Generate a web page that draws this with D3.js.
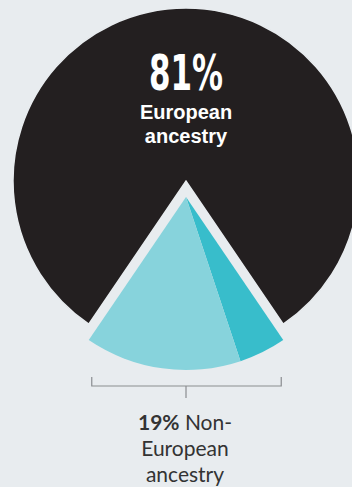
<!DOCTYPE html>
<html>
<head>
<meta charset="utf-8">
<script src="https://cdn.jsdelivr.net/npm/d3@7"></script>
<style>
  html, body { margin: 0; padding: 0; background: #e8ecef; }
  svg { display: block; }
</style>
</head>
<body>
<svg id="chart" width="352" height="487"></svg>
<script>
// Ancestry shares (%), drawn clockwise starting at the exploded wedge
const groups = ["Non-European (other)", "Non-European (Asian)", "European"];
const shares = [4.4, 14.6, 81];
const colors = ["#38bdcb", "#87d3dc", "#231f20"];

const bigLabel = "81%";
const bigCaption = ["European", "ancestry"];
const smallPct = "19%";
const smallCaption = ["Non-", "European", "ancestry"];

const W = 352, H = 487;
const cx = 186, cy = 181, R = 173;
const explode = 16;
const bg = "#e8ecef";

const svg = d3.select("#chart");

const nonEuro = d3.sum(shares.slice(0, 2)) / d3.sum(shares);
const start = Math.PI * (1 - nonEuro);

const pie = d3.pie().sort(null).value(d => d)
  .startAngle(start).endAngle(start + 2 * Math.PI);
const arcs = pie(shares);
const arc = d3.arc().innerRadius(0).outerRadius(R);

const g = svg.append("g").attr("transform", `translate(${cx},${cy})`);

g.selectAll("path.slice")
  .data(arcs)
  .join("path")
  .attr("class", "slice")
  .attr("d", arc)
  .attr("fill", (d, i) => colors[i])
  .attr("stroke", (d, i) => i < 2 ? "none" : bg)
  .attr("stroke-width", 1.5)
  .attr("transform", (d, i) => i < 2 ? `translate(0,${explode})` : null);

// Labels inside the large wedge
g.append("text")
  .attr("x", 0).attr("y", 89.5 - cy)
  .attr("text-anchor", "middle")
  .attr("fill", "#ffffff")
  .style("font-family", "'Liberation Sans Narrow', 'DejaVu Sans Condensed', sans-serif")
  .style("font-stretch", "condensed")
  .style("font-weight", "bold")
  .style("font-size", "50px")
  .attr("textLength", 74)
  .attr("lengthAdjust", "spacingAndGlyphs")
  .text(bigLabel);

g.selectAll("text.cap")
  .data(bigCaption)
  .join("text")
  .attr("class", "cap")
  .attr("x", 0)
  .attr("y", (d, i) => 118.5 - cy + i * 24)
  .attr("text-anchor", "middle")
  .attr("fill", "#ffffff")
  .style("font-family", "'Liberation Sans', Arial, sans-serif")
  .style("font-weight", "bold")
  .style("font-size", "20px")
  .text(d => d);

// Bracket under the exploded wedges
const a0 = arcs[0].startAngle, a1 = arcs[1].endAngle;
const xr = R * Math.sin(a0) - 2, xl = R * Math.sin(a1) + 3;
const by = 386 - cy, tickUp = 9, tickDown = 12;
const bracket = d3.path();
bracket.moveTo(xl, by - tickUp); bracket.lineTo(xl, by);
bracket.lineTo(xr, by); bracket.lineTo(xr, by - tickUp);
bracket.moveTo(0, by); bracket.lineTo(0, by + tickDown);
g.append("path")
  .attr("d", bracket.toString())
  .attr("fill", "none")
  .attr("stroke", "#8a8d90")
  .attr("stroke-width", 1.2);

const low = g.append("text")
  .attr("text-anchor", "middle")
  .attr("fill", "#333333")
  .style("font-family", "Lato, 'Open Sans', sans-serif")
  .style("font-size", "21px");

const line1 = low.append("tspan").attr("x", -1).attr("y", 430 - cy);
line1.append("tspan").style("font-weight", "bold").text(smallPct);
line1.append("tspan").text(" " + smallCaption[0]);
low.append("tspan").attr("x", -1).attr("y", 456 - cy).text(smallCaption[1]);
low.append("tspan").attr("x", -1).attr("y", 482 - cy).text(smallCaption[2]);
</script>
</body>
</html>
